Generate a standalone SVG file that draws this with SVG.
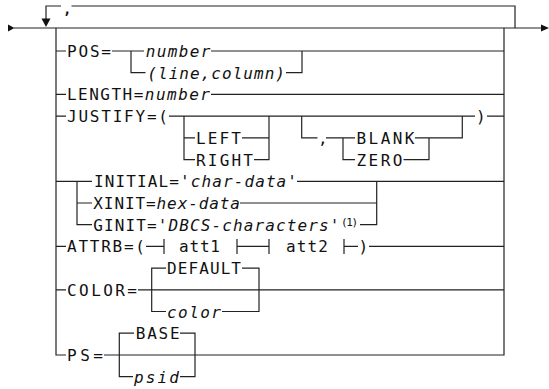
<svg xmlns="http://www.w3.org/2000/svg" width="549" height="389" viewBox="0 0 549 389">
<style>
.ln{fill:none;stroke:#222;stroke-width:1.2}
.ar{fill:#111}
text{font-family:"DejaVu Sans Mono","Liberation Mono",monospace;font-size:16px;fill:#111}
.it{font-style:italic}
.sup{font-size:11px}
.cm{font-size:14px;font-weight:bold}
</style>
<rect width="549" height="389" fill="#fff"/>
<g id="connectors">
<path class="ln" d="M14 28 H541 M46 19 V6 H61 M71.5 6 H515 V28 M56 28 V355 H66 M104 355 H504 V28"/>
<path class="ln" d="M56 51 H66 M112 51 H144 M131 51 V72.7 H145.5 M211 51 H504 M286 72.7 H302 V51"/>
<path class="ln" d="M56 94.4 H66 M211 94.4 H504"/>
<path class="ln" d="M56 116.1 H66 M169 116.1 H475 M487 116.1 H504"/>
<path class="ln" d="M184 116.1 V159.6 H195 M184 137.8 H195 M242 137.8 H269 M254 159.6 H269 V116.1"/>
<path class="ln" d="M301.7 116.1 V137.8 H317.5 M326 137.8 H355 M343 137.8 V159.6 H355 M415 137.8 H462.3 V116.1 M403.5 159.6 H429 V137.8"/>
<path class="ln" d="M56 181.3 H92 M297 181.3 H504 M77 181.3 V224.7 H92 M77 203 H92 M240 203 H376.7 M360 224.7 H376.7 V181.3"/>
<path class="ln" d="M56 246.4 H66 M146 246.4 H164 M164 239 V254 M237 239 V254 M237 246.4 H269 M269 239 V254 M344 239 V254 M344 246.4 H358 M369 246.4 H504"/>
<path class="ln" d="M56 289.8 H66 M138 289.8 H504 M166 268.1 H151.7 V311.5 H166 M242 268.1 H259 V311.5 H222"/>
<path class="ln" d="M134 333.2 H119.3 V376.7 H133 M180 333.2 H195 V376.7 H180"/>
<polygon class="ar" points="8,24.5 14.5,28 8,31.5"/>
<polygon class="ar" points="541,24.5 549,28 541,31.5"/>
<polygon class="ar" points="41.5,18.5 50.5,18.5 46,27"/>
</g>
<g id="repeat-sep"><text class="cm" x="63" y="14">,</text></g>
<g id="pos"><text x="67" y="57" textLength="44">POS=</text></g>
<g id="pos-number"><text class="it" x="145.7" y="57" textLength="64.6">number</text></g>
<g id="pos-linecol"><text class="it" x="147.3" y="78.7" textLength="137.7">(line,column)</text></g>
<g id="length"><text x="67" y="100.4" textLength="143">LENGTH=<tspan class="it">number</tspan></text></g>
<g id="justify"><text x="67" y="122.1" textLength="101">JUSTIFY=(</text></g>
<g id="left"><text x="196" y="143.8" textLength="45">LEFT</text></g>
<g id="right"><text x="196" y="165.6" textLength="57">RIGHT</text></g>
<g id="justify-sep"><text x="318" y="143.8">,</text></g>
<g id="blank"><text x="356.5" y="143.8" textLength="58">BLANK</text></g>
<g id="zero"><text x="356.5" y="165.6" textLength="46">ZERO</text></g>
<g id="justify-close"><text x="476" y="122.1">)</text></g>
<g id="initial"><text x="94" y="187.3" textLength="203">INITIAL='<tspan class="it">char-data</tspan>'</text></g>
<g id="xinit"><text x="93.3" y="209" textLength="146.7">XINIT=<tspan class="it">hex-data</tspan></text></g>
<g id="ginit"><text x="93.3" y="230.7" textLength="246">GINIT='<tspan class="it">DBCS-characters</tspan>'</text><text class="sup" x="341" y="225.5" textLength="17">(1)</text></g>
<g id="attrb"><text x="67" y="252.4" textLength="78">ATTRB=(</text></g>
<g id="att1"><text x="179" y="252.4" textLength="41">att1</text></g>
<g id="att2"><text x="286" y="252.4" textLength="42">att2</text></g>
<g id="attrb-close"><text x="358.5" y="252.4">)</text></g>
<g id="color"><text x="67" y="295.8" textLength="70">COLOR=</text></g>
<g id="color-default"><text x="167" y="274.1" textLength="74">DEFAULT</text></g>
<g id="color-value"><text class="it" x="167" y="317.5" textLength="54">color</text></g>
<g id="ps"><text x="67" y="361" textLength="36">PS=</text></g>
<g id="ps-base"><text x="135.7" y="339.2" textLength="44">BASE</text></g>
<g id="ps-psid"><text class="it" x="134" y="382.7" textLength="45">psid</text></g>
</svg>
